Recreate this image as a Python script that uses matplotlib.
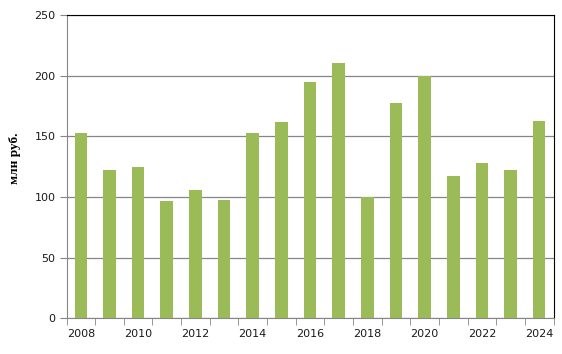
import numpy as np
import matplotlib.pyplot as plt

# Données
annees = list(range(2008, 2025))
valeurs = [153, 122, 125, 97, 106, 98, 153, 162, 195, 211, 100, 178, 200, 117, 128, 122, 163]
ticks_y = [0, 50, 100, 150, 200, 250]

VERT = '#9BBB59'
GRIS = '#868686'

fig = plt.figure(figsize=(5.62, 3.54), dpi=100)
ax = fig.add_axes([66.5 / 562, 1 - 318.3 / 354, 487 / 562, 303 / 354])

x = np.arange(len(annees))
ax.bar(x, valeurs, width=0.44, color=VERT, zorder=3)

ax.set_xlim(-0.5, len(annees) - 0.5)
ax.set_ylim(0, 250)
ax.set_yticks(ticks_y)
ax.yaxis.grid(True, color=GRIS, linewidth=0.9, zorder=0)

# étiquettes une année sur deux, traits entre catégories
ax.set_xticks(x[::2])
ax.set_xticklabels([str(a) for a in annees[::2]])
ax.set_xticks(np.arange(-0.5, len(annees)), minor=True)
ax.tick_params(axis='x', which='major', length=0, pad=8)
ax.tick_params(axis='x', which='minor', length=5, color=GRIS)
ax.tick_params(axis='y', length=5, color=GRIS, pad=3)
ax.tick_params(labelsize=8, labelcolor='#1a1a1a')

for cote in ['left', 'bottom']:
    ax.spines[cote].set_color(GRIS)
for cote in ['top', 'right']:
    ax.spines[cote].set_color('black')

# titre de l'axe vertical
fig.text(15 / 562, 1 - 158 / 354, "млн руб.", family='Liberation Serif', fontweight='bold',
         fontsize=9.5, rotation=90, ha='center', va='center')

plt.savefig("out.png", dpi=100)
